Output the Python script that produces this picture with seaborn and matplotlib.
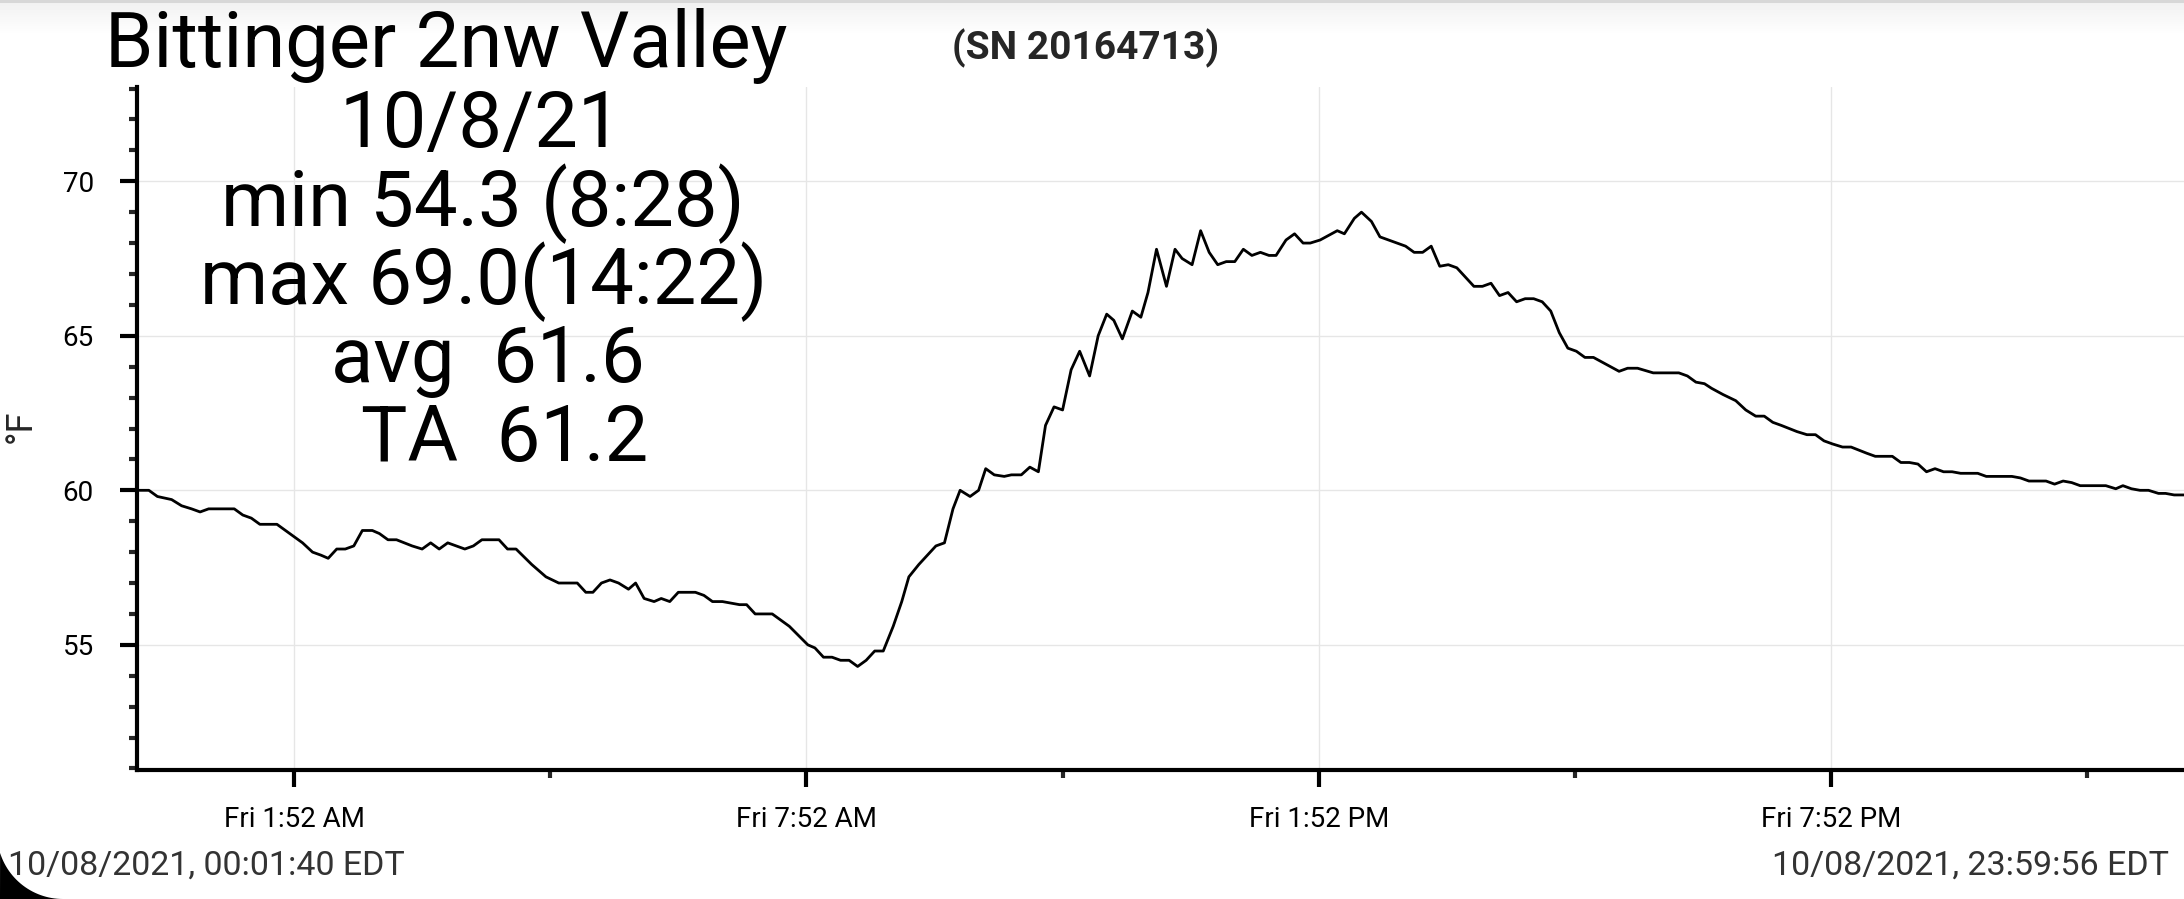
import matplotlib
matplotlib.use("Agg")
import matplotlib.pyplot as plt
from matplotlib.patches import Polygon
import numpy as np
import pandas as pd
import seaborn as sns

# readings from the logger, 10/08/2021
times = ["00:01:40", "00:10", "00:16", "00:26", "00:33", "00:40", "00:46", "00:52",
         "01:10", "01:16", "01:22", "01:28", "01:40", "01:46", "01:58", "02:05",
         "02:11", "02:16", "02:22", "02:28", "02:34", "02:40", "02:47", "02:52",
         "02:58", "03:04", "03:15", "03:22", "03:28", "03:34", "03:40", "03:52",
         "03:58", "04:04", "04:16", "04:22", "04:28", "04:39", "04:49", "04:58",
         "05:05", "05:11", "05:17", "05:22", "05:28", "05:34", "05:40", "05:47",
         "05:52", "05:58", "06:05", "06:10", "06:16", "06:22", "06:34", "06:40",
         "06:46", "06:53", "07:05", "07:10", "07:16", "07:28", "07:34", "07:40",
         "07:53", "07:58", "08:04", "08:10", "08:16", "08:22", "08:28", "08:34",
         "08:40", "08:46", "08:53", "08:59", "09:04", "09:11", "09:17", "09:23",
         "09:29", "09:35", "09:40", "09:47", "09:53", "09:58", "10:04", "10:11",
         "10:16", "10:23", "10:29", "10:35", "10:40", "10:46", "10:52", "10:58",
         "11:04", "11:11", "11:17", "11:23", "11:28", "11:34", "11:41", "11:47",
         "11:52", "11:58", "12:05", "12:11", "12:16", "12:23", "12:29", "12:35",
         "12:41", "12:47", "12:53", "12:59", "13:05", "13:11", "13:17", "13:22",
         "13:29", "13:35", "13:41", "13:46", "13:53", "13:59", "14:05", "14:10",
         "14:17", "14:22", "14:29", "14:35", "14:41", "14:47", "14:53", "14:59",
         "15:05", "15:11", "15:17", "15:23", "15:29", "15:35", "15:41", "15:47",
         "15:53", "15:59", "16:05", "16:11", "16:17", "16:23", "16:29", "16:35",
         "16:41", "16:47", "16:53", "16:59", "17:05", "17:17", "17:23", "17:29",
         "17:36", "17:47", "18:05", "18:11", "18:17", "18:23", "18:28", "18:36",
         "18:45", "18:52", "18:59", "19:05", "19:11", "19:17", "19:28", "19:35",
         "19:41", "19:47", "19:53", "20:00", "20:06", "20:17", "20:23", "20:35",
         "20:41", "20:47", "20:53", "20:59", "21:05", "21:11", "21:17", "21:23",
         "21:35", "21:41", "21:59", "22:05", "22:11", "22:23", "22:29", "22:35",
         "22:41", "22:47", "23:05", "23:12", "23:17", "23:23", "23:29", "23:35",
         "23:42", "23:47", "23:53", "23:59:56"]

temps = [60.0, 60.0, 59.8, 59.7, 59.5, 59.4, 59.3, 59.4,
         59.4, 59.2, 59.1, 58.9, 58.9, 58.7, 58.3, 58.0,
         57.9, 57.8, 58.1, 58.1, 58.2, 58.7, 58.7, 58.6,
         58.4, 58.4, 58.2, 58.1, 58.3, 58.1, 58.3, 58.1,
         58.2, 58.4, 58.4, 58.1, 58.1, 57.6, 57.2, 57.0,
         57.0, 57.0, 56.7, 56.7, 57.0, 57.1, 57.0, 56.8,
         57.0, 56.5, 56.4, 56.5, 56.4, 56.7, 56.7, 56.6,
         56.4, 56.4, 56.3, 56.3, 56.0, 56.0, 55.8, 55.6,
         55.0, 54.9, 54.6, 54.6, 54.5, 54.5, 54.3, 54.5,
         54.8, 54.8, 55.6, 56.4, 57.2, 57.6, 57.9, 58.2,
         58.3, 59.4, 60.0, 59.8, 60.0, 60.7, 60.5, 60.45,
         60.5, 60.5, 60.75, 60.6, 62.1, 62.7, 62.6, 63.9,
         64.5, 63.7, 65.0, 65.7, 65.5, 64.9, 65.8, 65.6,
         66.4, 67.8, 66.6, 67.8, 67.5, 67.3, 68.4, 67.7,
         67.3, 67.4, 67.4, 67.8, 67.6, 67.7, 67.6, 67.6,
         68.1, 68.3, 68.0, 68.0, 68.1, 68.25, 68.4, 68.3,
         68.8, 69.0, 68.7, 68.2, 68.1, 68.0, 67.9, 67.7,
         67.7, 67.9, 67.25, 67.3, 67.2, 66.9, 66.6, 66.6,
         66.7, 66.3, 66.4, 66.1, 66.2, 66.2, 66.1, 65.8,
         65.1, 64.6, 64.5, 64.3, 64.3, 64.0, 63.85, 63.95,
         63.95, 63.8, 63.8, 63.7, 63.5, 63.45, 63.3, 63.1,
         62.9, 62.6, 62.4, 62.4, 62.2, 62.1, 61.9, 61.8,
         61.8, 61.6, 61.5, 61.4, 61.4, 61.2, 61.1, 61.1,
         60.9, 60.9, 60.85, 60.6, 60.7, 60.6, 60.6, 60.55,
         60.55, 60.45, 60.45, 60.4, 60.3, 60.3, 60.2, 60.3,
         60.25, 60.15, 60.15, 60.05, 60.15, 60.05, 60.0, 60.0,
         59.9, 59.9, 59.85, 59.85]

major_ticks = ["01:52", "07:52", "13:52", "19:52"]
major_labels = ["Fri 1:52 AM", "Fri 7:52 AM", "Fri 1:52 PM", "Fri 7:52 PM"]
minor_ticks = ["04:52", "10:52", "16:52", "22:52"]

station = "Bittinger 2nw Valley"
serial = "(SN 20164713)"
stats_lines = ["10/8/21", "min 54.3 (8:28)", "max 69.0(14:22)", "avg  61.6", "TA  61.2"]
start_label = "10/08/2021, 00:01:40 EDT"
end_label = "10/08/2021, 23:59:56 EDT"


def to_ts(t):
    if t.count(":") == 1:
        t = t + ":00"
    return pd.Timestamp("2021-10-08 " + t)


df = pd.DataFrame({"time": [to_ts(t) for t in times], "temp": temps})

sns.set_style("white")
plt.rcParams["font.family"] = ["Roboto", "DejaVu Sans"]

W, H = 2184, 899
fig = plt.figure(figsize=(W / 100, H / 100), dpi=100)
fig.patch.set_facecolor("white")

# grey shadow band across the top of the screenshot
band = fig.add_axes([0, 1 - 36 / H, 1, 36 / H], zorder=-5)
grad = np.concatenate([np.full(3, 0.84), np.linspace(0.945, 1.0, 33)])[:, None]
band.imshow(grad, cmap="gray", vmin=0, vmax=1, aspect="auto")
band.set_axis_off()

ax = fig.add_axes([137 / W, 1 - 770 / H, 1 - 137 / W, (770 - 87) / H])
sns.lineplot(data=df, x="time", y="temp", color="black", linewidth=2.0, ax=ax)

ax.set_xlim(df["time"].iloc[0], df["time"].iloc[-1])
ax.set_ylim(50.95, 73.05)
ax.set_yticks([55, 60, 65, 70])
ax.set_yticks(np.arange(51, 74, 1), minor=True)
ax.set_xticks([to_ts(t) for t in major_ticks])
ax.set_xticklabels(major_labels)
ax.set_xticks([to_ts(t) for t in minor_ticks], minor=True)
ax.set_xlabel("")
ax.set_ylabel("")

ax.grid(True, which="major", color="#e6e6e6", linewidth=1.0)
ax.set_axisbelow(True)
for side in ["top", "right"]:
    ax.spines[side].set_visible(False)
for side in ["left", "bottom"]:
    ax.spines[side].set_linewidth(3)
    ax.spines[side].set_color("black")

ax.tick_params(axis="y", which="major", length=12, width=3, pad=19,
               labelsize=20, colors="black", direction="out", left=True)
ax.tick_params(axis="y", which="minor", length=6, width=3, direction="out", left=True)
ax.tick_params(axis="x", which="major", length=12, width=3, pad=14,
               labelsize=20, colors="black", direction="out", bottom=True)
ax.tick_params(axis="x", which="minor", length=6, width=3, direction="out", bottom=True)

# texts
fig.text(446 / W, 1 - 67 / H, station, ha="center", va="baseline", fontsize=56,
         color="black")
fig.text(1086 / W, 1 - 59 / H, serial, ha="center", va="baseline",
         fontsize=28, fontweight="bold")
stat_x = [481, 483, 484, 488, 505]
stat_y = [147, 226, 304, 382, 461]
for s, sx, sy in zip(stats_lines, stat_x, stat_y):
    fig.text(sx / W, 1 - sy / H, s, ha="center", va="baseline", fontsize=56,
             color="black")

fig.text(21 / W, 1 - 426 / H, "°F", rotation=90, ha="center", va="center", fontsize=26)
fig.text(8 / W, 1 - 875 / H, start_label, ha="left", va="baseline",
         fontsize=24.5, color="#333333")
fig.text(2169 / W, 1 - 875 / H, end_label, ha="right", va="baseline",
         fontsize=24.5, color="#333333")

# rounded screen corner at the bottom left
ang = np.linspace(np.deg2rad(162.4), np.deg2rad(90), 30)
cx = 63 + 66 * np.cos(ang)
cy = 833 + 66 * np.sin(ang)
pts = [(x / W, 1 - y / H) for x, y in zip(cx, cy)] + [(0, 0)]
fig.patches.append(Polygon(pts, closed=True, transform=fig.transFigure,
                           facecolor="black", edgecolor="none", zorder=10))

fig.savefig("out.png", dpi=100)
